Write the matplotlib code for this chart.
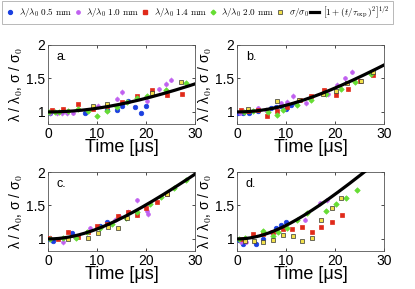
import numpy as np
import matplotlib
matplotlib.use("Agg")
import matplotlib.pyplot as plt
from matplotlib.lines import Line2D

plt.rcParams['font.family'] = ['Liberation Sans', 'DejaVu Sans']
plt.rcParams['mathtext.fontset'] = 'cm'

# ---- data: (time [us], ratio) per panel ----
panels = ['a.', 'b.', 'c.', 'd.']
tau_exp = [29.8, 21.8, 17.7, 15.0]

blue_t = [[0.4, 7.6, 12.0, 14.0, 15.1, 16.3, 17.7, 18.9, 20.1],
          [0.2, 1.2, 2.4, 4.3, 7.0, 8.0, 9.0, 10.1, 11.1, 12.1],
          [0.3, 1.0, 4.8, 10.6, 12.0],
          [0.5, 1.2, 3.9, 5.3, 8.0, 9.0, 10.1]]
blue_y = [[0.98, 0.99, 1.03, 1.03, 1.09, 1.165, 1.075, 0.98, 1.09],
          [0.99, 0.98, 0.98, 1.01, 1.065, 1.08, 1.09, 1.04, 1.10, 1.13],
          [1.0, 0.97, 1.085, 1.20, 1.25],
          [0.985, 0.92, 0.92, 1.0, 1.17, 1.21, 1.25]]

mag_t = [[0.5, 1.8, 2.8, 3.8, 5.2, 10.3, 14.1, 15.1, 20.3, 22.7, 24.0, 25.2],
         [0.7, 2.0, 4.3, 6.0, 9.0, 10.3, 11.4, 14.1, 18.6, 20.4, 22.0, 23.5],
         [0.5, 3.1, 5.5, 8.6, 13.7, 14.4, 16.4, 18.2, 20.2, 20.5],
         [0.9, 1.9, 7.0, 8.0, 13.8, 17.0, 18.4]]
mag_y = [[0.98, 0.98, 0.98, 0.98, 0.99, 1.09, 1.20, 1.30, 1.165, 1.34, 1.415, 1.48],
         [0.99, 1.02, 1.055, 1.03, 1.13, 1.155, 1.24, 1.13, 1.265, 1.40, 1.50, 1.60],
         [1.02, 0.95, 1.035, 1.16, 1.29, 1.34, 1.40, 1.575, 1.42, 1.37],
         [0.96, 0.96, 1.10, 1.12, 1.29, 1.53, 1.575]]

red_t = [[0.75, 3.15, 6.2, 9.2, 12.1, 15.1, 18.2, 21.3, 24.2, 27.3],
         [0.9, 2.2, 4.3, 6.2, 8.2, 10.3, 12.8, 15.2, 17.7, 20.3, 22.7, 25.2, 27.8],
         [0.3, 2.1, 4.1, 6.2, 8.2, 10.1, 12.0, 14.2, 16.3, 18.2, 20.1, 22.3, 24.2],
         [0.9, 3.3, 5.3, 7.3, 9.3, 11.3, 13.3, 15.3, 17.2, 19.3, 21.4]]
red_y = [[1.03, 1.05, 1.115, 1.05, 1.09, 1.15, 1.24, 1.33, 1.25, 1.265],
         [1.03, 1.015, 1.025, 0.94, 1.015, 1.08, 1.175, 1.24, 1.335, 1.255, 1.34, 1.455, 1.555],
         [1.02, 1.0, 1.11, 1.035, 1.11, 1.19, 1.22, 1.35, 1.40, 1.355, 1.455, 1.555, 1.675],
         [1.0, 1.075, 1.07, 1.11, 1.15, 1.15, 1.18, 1.10, 1.18, 1.26, 1.36]]

grn_t = [[0.3, 1.4, 2.3, 4.1, 6.2, 8.2, 10.1, 12.1, 14.0, 16.1, 18.2, 20.2, 24.1, 28.1],
         [1.4, 3.3, 6.3, 8.2, 9.3, 12.3, 15.2, 18.2, 21.3, 24.1, 27.3],
         [0.5, 3.1, 5.7, 8.0, 10.6, 13.0, 16.0, 18.2, 20.9, 23.1, 25.7, 28.1],
         [0.4, 1.6, 5.3, 7.3, 8.4, 10.3, 12.3, 14.3, 18.2, 20.3, 22.3, 24.4]]
grn_y = [[1.0, 1.0, 1.0, 1.02, 1.05, 1.02, 0.94, 1.02, 1.08, 1.15, 1.21, 1.24, 1.33, 1.43],
         [1.0, 1.01, 1.0, 0.95, 1.025, 1.10, 1.18, 1.265, 1.34, 1.45, 1.565],
         [1.0, 1.01, 1.01, 1.10, 1.16, 1.22, 1.31, 1.41, 1.525, 1.625, 1.76, 1.88],
         [1.0, 1.02, 1.12, 1.05, 1.11, 1.17, 1.29, 1.39, 1.42, 1.525, 1.615, 1.73]]

yel_t = [[9.2, 12.1, 21.3, 27.1],
         [2.2, 8.2, 12.7, 17.5, 20.3, 22.5, 25.4, 27.8],
         [4.1, 8.2, 10.3, 12.3, 14.2, 16.1, 24.2],
         [1.6, 3.5, 5.3, 7.3, 9.4, 11.4, 13.3, 15.3, 17.2, 19.3, 21.3]]
yel_y = [[1.09, 1.115, 1.28, 1.44],
         [1.04, 1.165, 1.175, 1.275, 1.315, 1.43, 1.465, 1.59],
         [1.0, 1.02, 1.085, 1.185, 1.17, 1.32, 1.665],
         [0.97, 0.97, 0.96, 0.985, 1.06, 1.05, 0.97, 1.02, 1.29, 1.465, 1.615]]

# styles: (colour, marker, size, edge, errbar colour, err)
series = [
    (blue_t, blue_y, '#1a3fe0', 'o', 3.3, '#1a3fe0', '#8fa0f0', 0.02),
    (mag_t, mag_y, '#c060f0', 'o', 2.7, '#c060f0', '#dca8f5', 0.04),
    (red_t, red_y, '#e02a1a', 's', 3.4, '#e02a1a', '#f0a090', 0.02),
    (grn_t, grn_y, '#66dd33', 'D', 2.8, '#66dd33', '#b0eea0', 0.03),
    (yel_t, yel_y, '#f2e04a', 's', 3.2, '#333333', '#999999', 0.015),
]

fig = plt.figure(figsize=(4.15, 2.89), dpi=100)
W, H = 415.0, 289.0
boxes = [(48, 45), (237, 45), (48, 172), (237, 172)]
t_line = np.linspace(0, 30, 200)

for k in range(4):
    x0, y0 = boxes[k]
    ax = fig.add_axes([x0 / W, 1 - (y0 + 79) / H, 147 / W, 79 / H])
    for (ts, ys, col, mk, ms, ec, errc, er) in series:
        ax.errorbar(ts[k], ys[k], yerr=er, fmt='none', ecolor=errc,
                    elinewidth=0.7, capsize=0, zorder=2)
        ax.plot(ts[k], ys[k], linestyle='none', marker=mk, ms=ms,
                mfc=col, mec=ec, mew=0.5, zorder=3)
    ax.plot(t_line, np.sqrt(1 + (t_line / tau_exp[k]) ** 2), color='black',
            lw=2.3, zorder=4)
    ax.set_xlim(0, 30)
    ax.set_ylim(0.82, 2)
    ax.set_xticks([0, 10, 20, 30])
    ax.set_yticks([1, 1.5, 2])
    ax.set_yticklabels(['1', '1.5', '2'])
    ax.tick_params(direction='in', length=2.5, width=0.5, labelsize=10,
                   pad=2, top=True, right=True)
    for s in ax.spines.values():
        s.set_linewidth(0.6)
        s.set_color('#555555')
    ax.text(0.06, 0.93, panels[k], transform=ax.transAxes, fontsize=9,
            va='top', ha='left')
    ax.set_xlabel('Time [\u03bcs]', fontsize=13, labelpad=-1)
    ax.set_ylabel('\u03bb / \u03bb$_0$, \u03c3 / \u03c3$_0$', fontsize=10,
                  labelpad=1)

# legend across the top
handles = [
    Line2D([], [], ls='none', marker='o', ms=2.8, mfc='#1a3fe0', mec='#1a3fe0'),
    Line2D([], [], ls='none', marker='o', ms=2.4, mfc='#c060f0', mec='#c060f0'),
    Line2D([], [], ls='none', marker='s', ms=3.0, mfc='#e02a1a', mec='#e02a1a'),
    Line2D([], [], ls='none', marker='D', ms=2.4, mfc='#66dd33', mec='#66dd33'),
    Line2D([], [], ls='none', marker='s', ms=3.0, mfc='#f2e04a', mec='#333333', mew=0.5),
    Line2D([], [], color='black', lw=2.3),
]
labels = [r'$\lambda/\lambda_0\ 0.5\ \mathrm{mm}$',
          r'$\lambda/\lambda_0\ 1.0\ \mathrm{mm}$',
          r'$\lambda/\lambda_0\ 1.4\ \mathrm{mm}$',
          r'$\lambda/\lambda_0\ 2.0\ \mathrm{mm}$',
          r'$\sigma/\sigma_0$',
          r'$\left[1+(t/\tau_{\exp})^2\right]^{1/2}$']
leg = fig.legend(handles, labels, loc='upper left', bbox_to_anchor=(0.005, 0.997),
                 ncol=6, fontsize=6.6, frameon=True, fancybox=False,
                 handlelength=1.0, handletextpad=0.4, columnspacing=0.15,
                 borderpad=0.4, borderaxespad=0)
leg.get_frame().set_edgecolor('#999999')
leg.get_frame().set_linewidth(0.6)

fig.savefig('out.png', dpi=100)
